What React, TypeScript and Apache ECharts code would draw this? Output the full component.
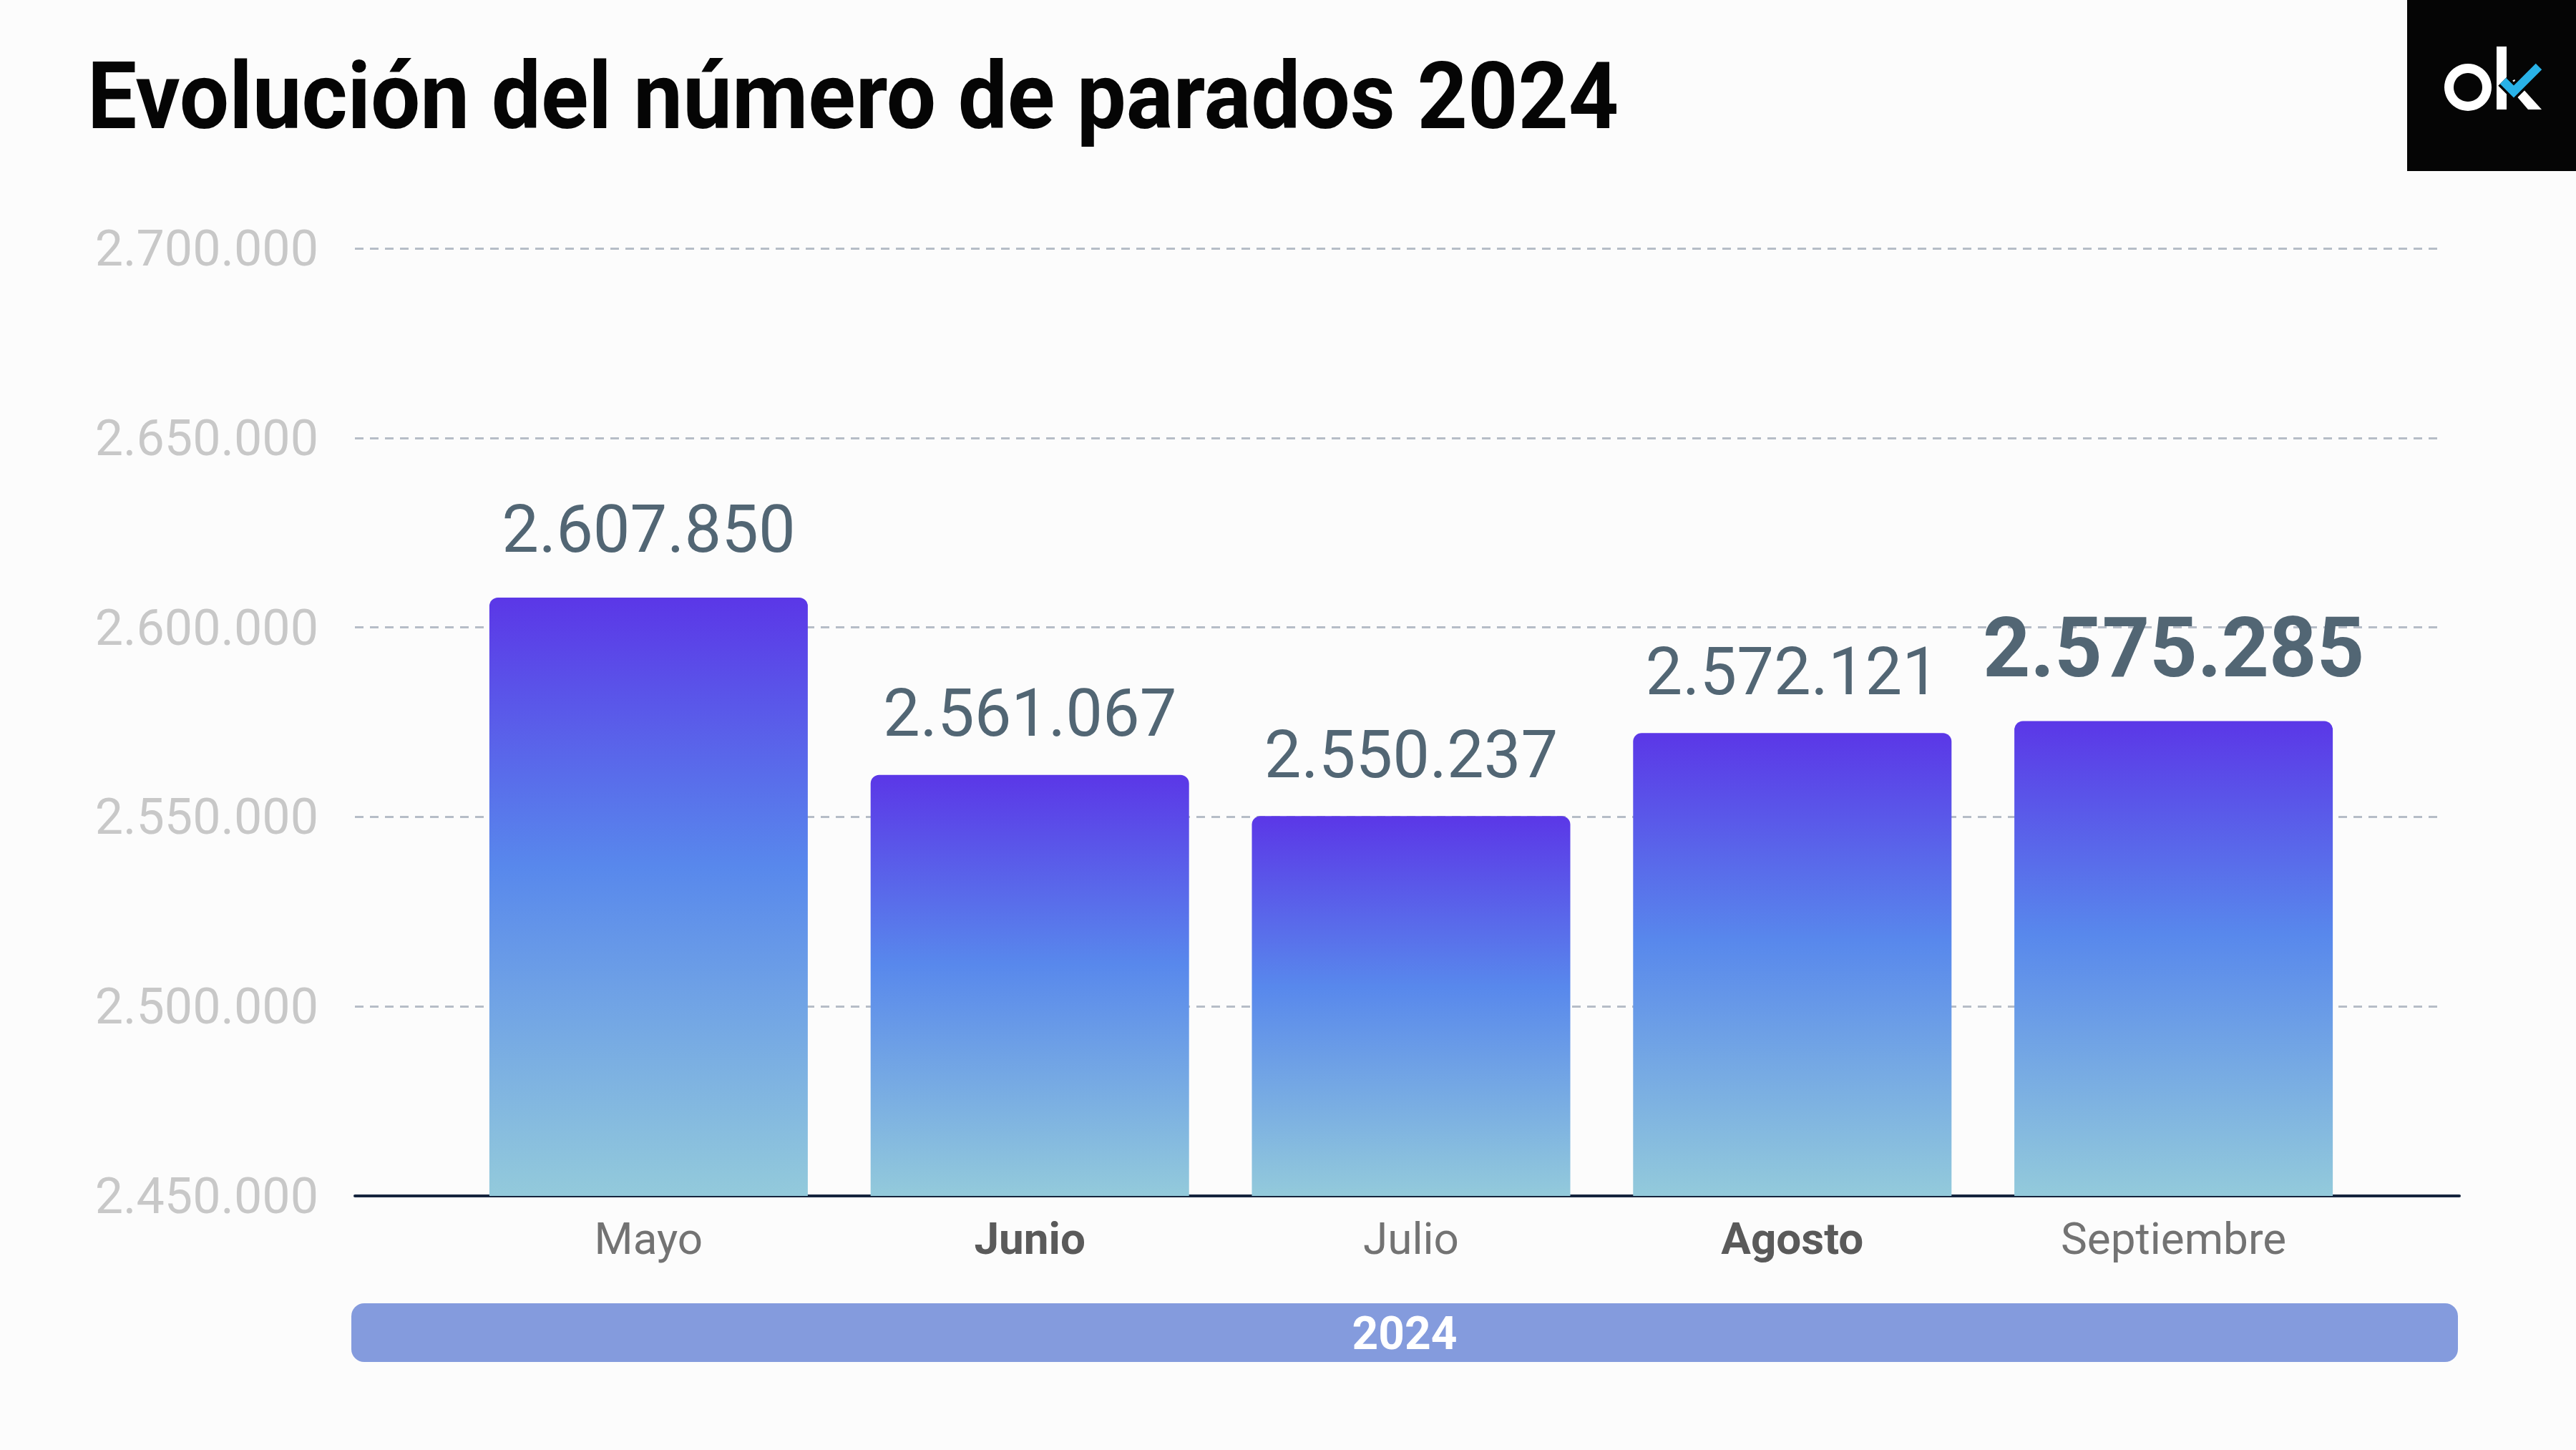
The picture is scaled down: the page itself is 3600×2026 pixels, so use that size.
import React, { useEffect, useRef } from "react";
import * as echarts from "echarts";

const months = ["Mayo", "Junio", "Julio", "Agosto", "Septiembre"];
const parados = [2607850, 2561067, 2550237, 2572121, 2575285];
const boldMonths = ["Junio", "Agosto"];
const highlightIndex = 4;
const yMin = 2450000;
const yMax = 2700000;
const yStep = 50000;
const titleText = "Evolución del número de parados 2024";
const bandText = "2024";

const fmt = (v: number) => String(v).replace(/\B(?=(\d{3})+(?!\d))/g, ".");

export default function App() {
  const ref = useRef<HTMLDivElement>(null);
  useEffect(() => {
    document.body.style.margin = "0";
    const chart = echarts.init(ref.current!, null, { renderer: "svg" });
    const FONT = "Roboto, 'Noto Sans', sans-serif";
    const top = 347;
    const height = 1324;
    const option: any = {
      animation: false,
      backgroundColor: "#fcfcfc",
      textStyle: { fontFamily: FONT },
      grid: [
        { left: 496, width: 2911, top, height },
        { left: 640, width: 2664, top, height },
        { left: 496, width: 2941, top, height },
      ],
      xAxis: [
        { gridIndex: 0, type: "category", data: [""], show: false },
        {
          gridIndex: 1,
          type: "category",
          data: months,
          axisLine: { show: false },
          axisTick: { show: false },
          axisLabel: {
            margin: 28,
            formatter: (v: string) => (boldMonths.includes(v) ? `{b|${v}}` : `{n|${v}}`),
            rich: {
              n: { fontSize: 62, color: "#737373", fontFamily: FONT },
              b: { fontSize: 62, color: "#5a5a5a", fontWeight: "bold", fontFamily: FONT },
            },
          },
        },
        {
          gridIndex: 2,
          type: "category",
          data: [""],
          axisLine: { show: true, lineStyle: { color: "#15243d", width: 4 } },
          axisTick: { show: false },
          axisLabel: { show: false },
        },
      ],
      yAxis: [
        {
          gridIndex: 0,
          type: "value",
          min: yMin,
          max: yMax,
          interval: yStep,
          axisLine: { show: false },
          axisTick: { show: false },
          axisLabel: {
            formatter: (v: number) => fmt(v),
            color: "#c8c8c8",
            fontSize: 70,
            margin: 51,
            fontFamily: FONT,
          },
          splitLine: {
            show: true,
            lineStyle: { color: "#b6bdc7", width: 3, type: [12, 9] },
          },
        },
        { gridIndex: 1, type: "value", min: yMin, max: yMax, interval: yStep, show: false, splitLine: { show: false } },
        { gridIndex: 2, type: "value", min: yMin, max: yMax, interval: yStep, show: false, splitLine: { show: false } },
      ],
      series: [
        {
          type: "bar",
          xAxisIndex: 1,
          yAxisIndex: 1,
          barWidth: 445,
          data: parados.map((v, i) =>
            i === highlightIndex
              ? { value: v, label: { fontSize: 116, fontWeight: "bold", distance: 44 } }
              : i === 0
              ? { value: v, label: { distance: 50 } }
              : v
          ),
          itemStyle: {
            borderRadius: [12, 12, 0, 0],
            color: new echarts.graphic.LinearGradient(0, 0, 0, 1, [
              { offset: 0, color: "#5b37e7" },
              { offset: 0.45, color: "#5888ec" },
              { offset: 1, color: "#93cadb" },
            ]),
          },
          label: {
            show: true,
            position: "top",
            distance: 40,
            color: "#526674",
            fontSize: 92,
            fontFamily: FONT,
            formatter: (p: any) => fmt(p.value),
          },
        },
      ],
      graphic: [
        {
          type: "text",
          x: 122,
          y: 135,
          scaleX: 0.945,
          style: {
            text: titleText,
            font: `bold 130px ${FONT}`,
            fill: "#050505",
            verticalAlign: "middle",
            align: "left",
          },
        },
        { type: "rect", shape: { x: 3364, y: 0, width: 236, height: 239 }, style: { fill: "#050505" } },
        { type: "ring", shape: { cx: 3449, cy: 122, r: 33, r0: 20 }, style: { fill: "#ffffff" } },
        { type: "rect", shape: { x: 3489, y: 65, width: 14, height: 88 }, style: { fill: "#ffffff" } },
        {
          type: "polygon",
          shape: { points: [[3503, 118], [3514, 111], [3552, 153], [3533, 153]] },
          style: { fill: "#ffffff" },
        },
        {
          type: "polyline",
          shape: { points: [[3498, 113], [3513, 128], [3548, 93]] },
          style: { stroke: "#050505", lineWidth: 19, fill: null },
        },
        {
          type: "polyline",
          shape: { points: [[3498, 113], [3513, 128], [3548, 93]] },
          style: { stroke: "#29b2e8", lineWidth: 12, fill: null },
        },
        {
          type: "rect",
          shape: { x: 491, y: 1821, width: 2944, height: 82, r: 18 },
          style: { fill: "#849bdd" },
        },
        {
          type: "text",
          x: 1963,
          y: 1863,
          style: {
            text: bandText,
            font: `bold 64px ${FONT}`,
            fill: "#ffffff",
            align: "center",
            verticalAlign: "middle",
          },
        },
      ],
    };
    chart.setOption(option);
    return () => chart.dispose();
  }, []);
  return <div ref={ref} style={{ width: 3600, height: 2026 }} />;
}
